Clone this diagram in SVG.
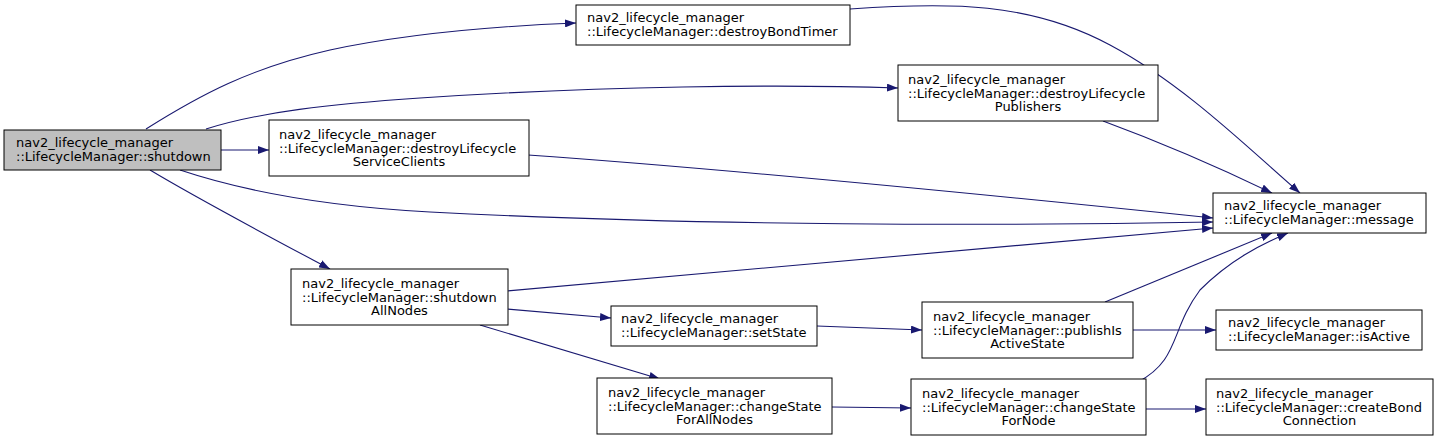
<svg xmlns="http://www.w3.org/2000/svg" width="1439" height="443" viewBox="0 0 1439 443">
<defs>
<style>
.n rect{fill:#ffffff;stroke:#000000;stroke-width:1}
.root rect{fill:#bfbfbf}
.n text{font-family:"DejaVu Sans","Liberation Sans",sans-serif;font-size:13px;fill:#000000}
.m{text-anchor:middle}
.e path{fill:none;stroke:#191970;stroke-width:1.1;marker-end:url(#ah)}
</style>
<marker id="ah" viewBox="0 0 11 8" refX="11" refY="4" markerWidth="11" markerHeight="8" markerUnits="userSpaceOnUse" orient="auto">
<path d="M0,0 L11,4 L0,8 Z" fill="#191970" stroke="none"/>
</marker>
</defs>
<rect width="1439" height="443" fill="#ffffff"/>
<g id="edges" class="e">
<path d="M146,129 C200,95 250,68 330,50 C410,33 500,26 576,23"/>
<path d="M206,129 C260,112 330,104 420,98 C600,86 780,84 898,88"/>
<path d="M221,150 L269,150"/>
<path d="M180,170 C240,190 320,206 430,212 C700,226 1000,226 1213,222"/>
<path d="M150,170 C200,200 270,237 330,269"/>
<path d="M850,9 C950,2 1030,2 1110,45 C1185,85 1250,150 1300,193"/>
<path d="M1103,121 C1160,142 1220,168 1272,193"/>
<path d="M528,155 C700,167 1000,196 1213,218"/>
<path d="M507,291 L1213,228"/>
<path d="M507,309 L611,318"/>
<path d="M480,325 L660,379"/>
<path d="M817,326 L922,330"/>
<path d="M832,407 L911,408"/>
<path d="M1105,302 L1272,233"/>
<path d="M1133,330 L1216,330"/>
<path d="M1138,382 C1180,360 1170,330 1200,290 C1230,260 1260,245 1288,233"/>
<path d="M1146,409 L1206,409"/>
</g>
<g id="shutdown" class="n root">
<rect x="4" y="130" width="217" height="40"/>
<text x="16" y="147">nav2_lifecycle_manager</text>
<text x="16" y="161">::LifecycleManager::shutdown</text>
</g>
<g id="destroyBondTimer" class="n">
<rect x="576" y="5" width="274" height="40"/>
<text x="587" y="22">nav2_lifecycle_manager</text>
<text x="587" y="36">::LifecycleManager::destroyBondTimer</text>
</g>
<g id="destroyLifecycleServiceClients" class="n">
<rect x="269" y="120" width="260" height="56"/>
<text x="279" y="139">nav2_lifecycle_manager</text>
<text x="279" y="152.5">::LifecycleManager::destroyLifecycle</text>
<text class="m" x="399" y="166">ServiceClients</text>
</g>
<g id="destroyLifecyclePublishers" class="n">
<rect x="898" y="65" width="260" height="56"/>
<text x="908" y="84">nav2_lifecycle_manager</text>
<text x="908" y="97.5">::LifecycleManager::destroyLifecycle</text>
<text class="m" x="1028" y="111">Publishers</text>
</g>
<g id="message" class="n">
<rect x="1213" y="193" width="213" height="40"/>
<text x="1224" y="210">nav2_lifecycle_manager</text>
<text x="1224" y="224">::LifecycleManager::message</text>
</g>
<g id="shutdownAllNodes" class="n">
<rect x="291" y="269" width="217" height="56"/>
<text x="302" y="288">nav2_lifecycle_manager</text>
<text x="302" y="301.5">::LifecycleManager::shutdown</text>
<text class="m" x="399.5" y="315">AllNodes</text>
</g>
<g id="setState" class="n">
<rect x="611" y="306" width="206" height="40"/>
<text x="621" y="323">nav2_lifecycle_manager</text>
<text x="621" y="337">::LifecycleManager::setState</text>
</g>
<g id="changeStateForAllNodes" class="n">
<rect x="597" y="378" width="235" height="56"/>
<text x="608" y="397">nav2_lifecycle_manager</text>
<text x="608" y="410.5">::LifecycleManager::changeState</text>
<text class="m" x="714.5" y="424">ForAllNodes</text>
</g>
<g id="publishIsActiveState" class="n">
<rect x="922" y="302" width="211" height="56"/>
<text x="933" y="321">nav2_lifecycle_manager</text>
<text x="933" y="334.5">::LifecycleManager::publishIs</text>
<text class="m" x="1027.5" y="348">ActiveState</text>
</g>
<g id="isActive" class="n">
<rect x="1216" y="310" width="206" height="40"/>
<text x="1228" y="327">nav2_lifecycle_manager</text>
<text x="1228" y="341">::LifecycleManager::isActive</text>
</g>
<g id="changeStateForNode" class="n">
<rect x="911" y="379" width="235" height="56"/>
<text x="922" y="398">nav2_lifecycle_manager</text>
<text x="922" y="411.5">::LifecycleManager::changeState</text>
<text class="m" x="1028.5" y="425">ForNode</text>
</g>
<g id="createBondConnection" class="n">
<rect x="1206" y="379" width="227" height="56"/>
<text x="1216" y="398">nav2_lifecycle_manager</text>
<text x="1216" y="411.5">::LifecycleManager::createBond</text>
<text class="m" x="1319.5" y="425">Connection</text>
</g>
</svg>
